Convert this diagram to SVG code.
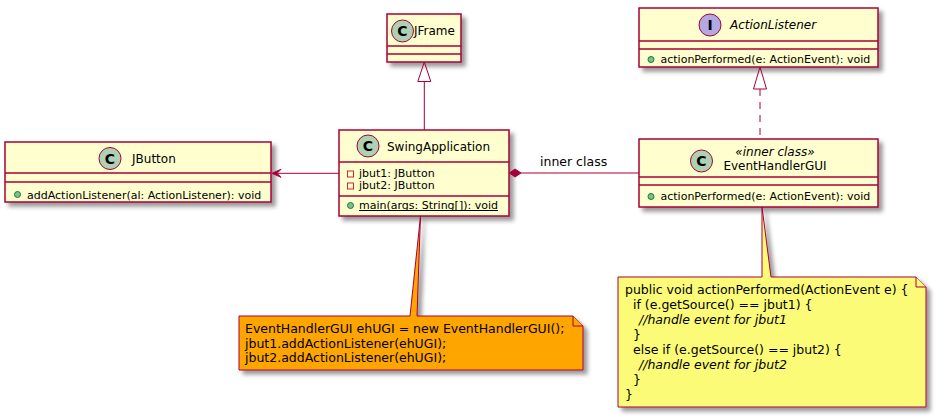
<svg xmlns="http://www.w3.org/2000/svg" width="947" height="419" viewBox="0 0 947 419">
<defs>
<filter id="sh" x="-1" y="-1" width="300%" height="300%">
<feGaussianBlur result="b1" stdDeviation="2"/>
<feColorMatrix type="matrix" in="b1" result="b2" values="0 0 0 0 0 0 0 0 0 0 0 0 0 0 0 0 0 0 .4 0"/>
<feOffset result="b3" in="b2" dx="4" dy="4"/>
<feBlend in="SourceGraphic" in2="b3" mode="normal"/>
</filter>
<style>
.box{fill:#FEFECE;stroke:#A80036;stroke-width:1.5}
.sep{stroke:#A80036;stroke-width:1.5}
.cc{fill:#ADD1B2;stroke:#A80036;stroke-width:1}
.ci{fill:#B4A7E5;stroke:#A80036;stroke-width:1}
.cl{font-family:"DejaVu Sans",sans-serif;font-size:14px;font-weight:bold;fill:#000;text-anchor:middle}
.name{font-family:"DejaVu Sans",sans-serif;font-size:12px;fill:#000}
.it{font-style:italic}
.mid{text-anchor:middle}
.mem{font-family:"DejaVu Sans",sans-serif;font-size:11px;fill:#000}
.pub{fill:#84BE84;stroke:#038048;stroke-width:1}
.priv{fill:none;stroke:#C82930;stroke-width:1}
.edge{stroke:#A80036;stroke-width:1;fill:none}
.head{fill:#A80036;stroke:#A80036;stroke-width:1}
.lbl{font-family:"DejaVu Sans",sans-serif;font-size:12.5px;fill:#000}
.note{font-family:"DejaVu Sans",sans-serif;font-size:12.5px;fill:#000}
.nshape{stroke:#A80036;stroke-width:1}
</style>
</defs>
<rect width="947" height="419" fill="#FFFFFF"/>

<g id="JFrame">
<rect class="box" x="387" y="14" width="74" height="48" filter="url(#sh)"/>
<line class="sep" x1="387" y1="46" x2="461" y2="46"/>
<line class="sep" x1="387" y1="54" x2="461" y2="54"/>
<circle class="cc" cx="402.5" cy="31" r="11"/>
<text class="cl" x="402.5" y="36">C</text>
<text class="name" x="414" y="35">JFrame</text>
</g>

<g id="SwingApplication">
<rect class="box" x="339" y="130" width="170" height="86" filter="url(#sh)"/>
<line class="sep" x1="339" y1="162" x2="509" y2="162"/>
<line class="sep" x1="339" y1="196" x2="509" y2="196"/>
<circle class="cc" cx="368" cy="146" r="11"/>
<text class="cl" x="368" y="151">C</text>
<text class="name" x="387" y="150.5">SwingApplication</text>
<rect class="priv" x="347.5" y="171" width="6" height="6"/>
<text class="mem" x="359" y="176.5">jbut1: JButton</text>
<rect class="priv" x="347.5" y="183" width="6" height="6"/>
<text class="mem" x="359" y="189">jbut2: JButton</text>
<circle class="pub" cx="350.5" cy="205.5" r="3"/>
<text class="mem" x="359" y="208.5">main(args: String[]): void</text>
<line x1="359" y1="210.5" x2="498" y2="210.5" stroke="#000" stroke-width="1"/>
</g>

<g id="JButton">
<rect class="box" x="5" y="142" width="266" height="60" filter="url(#sh)"/>
<line class="sep" x1="5" y1="173" x2="271" y2="173"/>
<line class="sep" x1="5" y1="182" x2="271" y2="182"/>
<circle class="cc" cx="110" cy="158.5" r="11"/>
<text class="cl" x="110" y="163.5">C</text>
<text class="name" x="132" y="163">JButton</text>
<circle class="pub" cx="17.5" cy="194.5" r="3"/>
<text class="mem" x="27" y="198.5">addActionListener(al: ActionListener): void</text>
</g>

<g id="ActionListener">
<rect class="box" x="639" y="8" width="239" height="59" filter="url(#sh)"/>
<line class="sep" x1="639" y1="41" x2="878" y2="41"/>
<line class="sep" x1="639" y1="49" x2="878" y2="49"/>
<circle class="ci" cx="710" cy="25" r="11"/>
<text class="cl" x="710" y="30">I</text>
<text class="name it" x="730" y="28.5">ActionListener</text>
<circle class="pub" cx="651" cy="59.5" r="3"/>
<text class="mem" x="660.5" y="63">actionPerformed(e: ActionEvent): void</text>
</g>

<g id="EventHandlerGUI">
<rect class="box" x="639" y="139" width="239" height="68" filter="url(#sh)"/>
<line class="sep" x1="639" y1="177" x2="878" y2="177"/>
<line class="sep" x1="639" y1="185" x2="878" y2="185"/>
<circle class="cc" cx="701.5" cy="161" r="11"/>
<text class="cl" x="701.5" y="166">C</text>
<text class="name it mid" x="775" y="155.5">«inner class»</text>
<text class="name mid" x="775" y="170">EventHandlerGUI</text>
<circle class="pub" cx="651" cy="196.5" r="3"/>
<text class="mem" x="660.5" y="200">actionPerformed(e: ActionEvent): void</text>
</g>

<g id="connectors">
<line class="edge" x1="424.3" y1="81.5" x2="424.3" y2="130"/>
<polygon class="edge" points="424.3,62 417.8,81.5 430.8,81.5"/>
<line class="edge" x1="276" y1="173.3" x2="339" y2="173.3"/>
<polygon class="head" points="272,173.3 281,169.3 277,173.3 281,177.3"/>
<line class="edge" x1="521" y1="173" x2="639" y2="173"/>
<polygon class="head" points="509.5,173 515,169 521,173 515,177"/>
<text class="lbl" x="540" y="166">inner class</text>
<line class="edge" x1="760" y1="89" x2="760" y2="139" stroke-dasharray="7,6"/>
<polygon class="edge" points="760,67 753.5,89 766.5,89"/>
</g>

<g id="note1">
<path class="nshape" d="M239,316 L410,316 L420.5,216 L417,316 L573,316 L583,326 L583,370 L239,370 Z" fill="#FFA500" filter="url(#sh)"/>
<path class="nshape" d="M573,316 L573,326 L583,326" fill="#FFA500"/>
<text class="note" x="245" y="333">EventHandlerGUI ehUGI = new EventHandlerGUI();</text>
<text class="note" x="245" y="347.5">jbut1.addActionListener(ehUGI);</text>
<text class="note" x="245" y="362">jbut2.addActionListener(ehUGI);</text>
</g>

<g id="note2">
<path class="nshape" d="M618,277 L762,277 L762,207 L771,277 L916,277 L926,287 L926,407 L618,407 Z" fill="#FBFB77" filter="url(#sh)"/>
<path class="nshape" d="M916,277 L916,287 L926,287" fill="#FBFB77"/>
<text class="note" x="625" y="294">public void actionPerformed(ActionEvent e) {</text>
<text class="note" x="633" y="309">if (e.getSource() == jbut1) {</text>
<text class="note it" x="639" y="324">//handle event for jbut1</text>
<text class="note" x="633" y="339">}</text>
<text class="note" x="633" y="354">else if (e.getSource() == jbut2) {</text>
<text class="note it" x="639" y="369">//handle event for jbut2</text>
<text class="note" x="633" y="384">}</text>
<text class="note" x="625" y="399">}</text>
</g>
</svg>
